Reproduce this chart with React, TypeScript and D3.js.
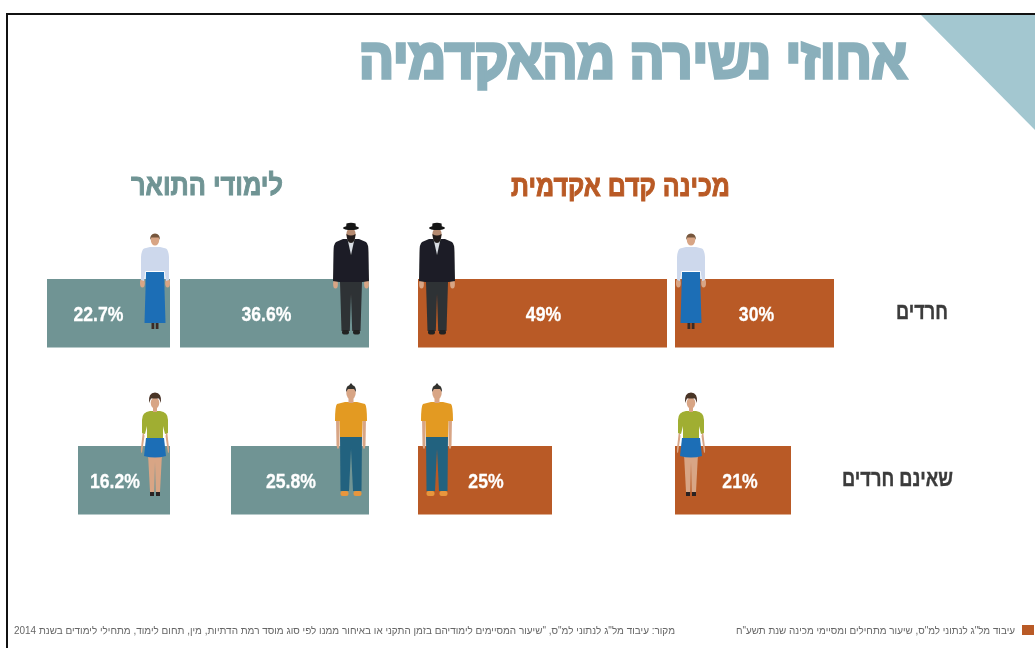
import React from "react";
import * as d3 from "d3";

const title = "אחוזי נשירה מהאקדמיה";
const rowLabels = ["חרדים", "שאינם חרדים"];
const prepTitle = "מכינה קדם אקדמית";
const degreeTitle = "לימודי התואר";
const prepMen = [49, 25];
const prepWomen = [30, 21];
const degreeMen = [36.6, 25.8];
const degreeWomen = [22.7, 16.2];
const noteLeft = 'מקור: עיבוד מל"ג לנתוני למ"ס, "שיעור המסיימים לימודיהם בזמן התקני או באיחור ממנו לפי סוג מוסד רמת הדתיות, מין, תחום לימוד, מתחילי לימודים בשנת 2014';
const noteRight = 'עיבוד מל"ג לנתוני למ"ס, שיעור מתחילים ומסיימי מכינה שנת תשע"ח';

const ORANGE = "#b95a25";
const TEAL = "#6f9494";
const SKIN = "#d8a585";
const FONT = "'Liberation Sans', 'DejaVu Sans', sans-serif";

// The infographic's bars are drawn by hand and are not strictly proportional,
// so the scale follows the widths at each printed value.
const widthScale = d3.scaleLinear()
  .domain([0, 16.2, 21, 22.7, 25, 25.8, 30, 36.6, 49])
  .range([0, 92, 116, 123, 134, 138, 159, 189, 249]);
const rowScale = d3.scalePoint<string>().domain(rowLabels).range([279, 446]);
const BAR_H = 68.5;

const Hands = ({ y, x }: { y: number; x: number }) => (
  <g fill={SKIN}>
    <ellipse cx={-x} cy={y} rx={2.4} ry={4.5} />
    <ellipse cx={x} cy={y} rx={2.4} ry={4.5} />
  </g>
);

const HarediMan = () => (
  <g>
    <path d="M-11,60 H11 L9.5,109 H1.2 L0,72 L-1.2,109 H-9.5 Z" fill="#2f3134" />
    <rect x={-9} y={108} width={7} height={4.5} rx={2} fill="#222" />
    <rect x={2} y={108} width={7} height={4.5} rx={2} fill="#222" />
    <Hands y={62} x={15.5} />
    <path d="M-8,17 L8,17 L15,20 Q17.5,22 17.5,30 L18,59 L12,60 H-12 L-18,59 L-17.5,30 Q-17.5,22 -15,20 Z" fill="#1e1f25" />
    <path d="M-3.5,17 H3.5 L0,33 Z" fill="#d9dde3" />
    <ellipse cx={0} cy={12} rx={4.6} ry={6} fill="#b58a70" />
    <path d="M-4.6,12 Q0,15 4.6,12 Q4,21 0,21 Q-4,21 -4.6,12 Z" fill="#231d1a" />
    <ellipse cx={0} cy={6} rx={8} ry={2} fill="#141414" />
    <path d="M-5,6 L-4.5,1.5 Q0,0 4.5,1.5 L5,6 Z" fill="#141414" />
  </g>
);

const HarediWoman = () => (
  <g>
    <rect x={-3.5} y={88} width={2.8} height={8} fill="#3a2c25" />
    <rect x={0.7} y={88} width={2.8} height={8} fill="#3a2c25" />
    <Hands y={50} x={12.6} />
    <path d="M-5,14 L5,14 L11,15.5 Q13.5,17 14,24 L14,47 L11,48 L9.5,38 H-9.5 L-11,48 L-14,47 L-14,24 Q-13.5,17 -11,15.5 Z" fill="#cdd8ec" />
    <path d="M-9,39 L9,39 L10.5,90 H-10.5 Z" fill="#1f6eb6" />
    <ellipse cx={0} cy={7} rx={4.2} ry={5.5} fill={SKIN} />
    <path d="M-5,7 Q-5,0.5 0,0.5 Q5,0.5 5,7 L3.5,4.5 H-3.5 Z" fill="#76573c" />
  </g>
);

const CasualMan = () => (
  <g>
    <path d="M-11,53 H11 L10.5,108 H2 L0,66 L-2,108 H-10.5 Z" fill="#23627f" />
    <rect x={-10.5} y={108} width={8} height={5} rx={2} fill="#e8963c" />
    <rect x={2.5} y={108} width={8} height={5} rx={2} fill="#e8963c" />
    <path d="M-15,35 H-11.5 V62 Q-13,70 -14.5,62 Z M15,35 H11.5 V62 Q13,70 14.5,62 Z" fill={SKIN} />
    <path d="M-6,19 L6,19 L14,21 Q16,23 16,38 H11.5 L11,54 H-11 L-11.5,38 H-16 Q-16,23 -14,21 Z" fill="#e39a20" />
    <rect x={-2.5} y={14} width={5} height={6} fill={SKIN} />
    <ellipse cx={0} cy={10} rx={4.7} ry={6.5} fill={SKIN} />
    <path d="M-5,9 Q-5,3 -2,2.5 L0,0 L2,2.5 Q5,3 5,9 L3,6 H-3 Z" fill="#30302f" />
  </g>
);

const CasualWoman = () => (
  <g>
    <path d="M-7,62 H7 L5,100 H0.7 L0,70 L-0.7,100 H-5 Z" fill={SKIN} />
    <rect x={-5} y={100} width={4} height={4} fill="#2a2421" />
    <rect x={1} y={100} width={4} height={4} fill="#2a2421" />
    <path d="M-12,38 L-14,56 Q-14.5,61 -13,61 L-10.5,44 Z M12,38 L14,56 Q14.5,61 13,61 L10.5,44 Z" fill={SKIN} />
    <path d="M-5,19 L5,19 Q13,20 13,28 L13,41 L10,42 L8,34 V46 H-8 V34 L-10,42 L-13,41 L-13,28 Q-13,20 -5,19 Z" fill="#a0ae30" />
    <path d="M-9,46 H9 L11,64 Q0,67 -11,64 Z" fill="#1f6eb6" />
    <rect x={-2} y={14} width={4} height={6} fill={SKIN} />
    <ellipse cx={0} cy={11} rx={4.3} ry={5.6} fill={SKIN} />
    <path d="M-6,11 Q-7,0.5 0,0.5 Q7,0.5 6,11 L4,6.5 H-4 Z" fill="#4a3428" />
  </g>
);

type Panel = {
  values: number[];
  color: string;
  edge: number;
  grow: 1 | -1;
  figures: [React.FC, React.FC];
  tops: [number, number];
  figureX: number;
  labelShift: [number, number];
};

const panels: Panel[] = [
  { values: prepWomen, color: ORANGE, edge: 675, grow: 1, figures: [HarediWoman, CasualWoman], tops: [233, 392], figureX: 691, labelShift: [2, 7] },
  { values: prepMen, color: ORANGE, edge: 418, grow: 1, figures: [HarediMan, CasualMan], tops: [222, 383], figureX: 437, labelShift: [1, 1] },
  { values: degreeMen, color: TEAL, edge: 369, grow: -1, figures: [HarediMan, CasualMan], tops: [222, 383], figureX: 351, labelShift: [-8, -9] },
  { values: degreeWomen, color: TEAL, edge: 170, grow: -1, figures: [HarediWoman, CasualWoman], tops: [233, 392], figureX: 155, labelShift: [-10, -9] },
];

export default function App() {
  return (
    <svg
      width={1035}
      height={648}
      viewBox="0 0 1035 648"
      style={{ position: "absolute", left: 0, top: 0, background: "#fff" }}
    >
      <defs>
        <filter id="soft" x="-5%" y="-5%" width="110%" height="110%">
          <feGaussianBlur stdDeviation="0.4" />
        </filter>
      </defs>
      <g filter="url(#soft)" fontFamily={FONT} direction="rtl">
        <path d="M921,15 H1035 V130 Z" fill="#a3c7d0" />
        <text x={907} y={78} textAnchor="start" fontSize={56} fontWeight={700} fill="#8aafbb" stroke="#8aafbb" strokeWidth={3.4} textLength={548} lengthAdjust="spacingAndGlyphs">{title}</text>
        <text x={730} y={196} textAnchor="start" fontSize={29} fontWeight={700} fill={ORANGE} stroke={ORANGE} strokeWidth={1} textLength={219} lengthAdjust="spacingAndGlyphs">{prepTitle}</text>
        <text x={283} y={195} textAnchor="start" fontSize={29} fontWeight={700} fill={TEAL} stroke={TEAL} strokeWidth={1} textLength={152} lengthAdjust="spacingAndGlyphs">{degreeTitle}</text>

        {rowLabels.map((label, r) => (
          <text key={label} x={r === 0 ? 948 : 953} y={rowScale(label)! + 40} textAnchor="start" fontSize={23} fontWeight={700} fill="#3b3b3b" stroke="#3b3b3b" strokeWidth={0.4} textLength={r === 0 ? 52 : 111} lengthAdjust="spacingAndGlyphs">{label}</text>
        ))}

        {panels.map((p, i) => (
          <g key={i}>
            {p.values.map((v, r) => {
              const w = widthScale(v);
              const x = p.grow === 1 ? p.edge : p.edge - w;
              const y = rowScale(rowLabels[r])!;
              return <rect key={r} x={x} y={y} width={w} height={BAR_H} fill={p.color} />;
            })}
            {p.values.map((v, r) => {
              const w = widthScale(v);
              const x = p.grow === 1 ? p.edge : p.edge - w;
              const y = rowScale(rowLabels[r])!;
              const Figure = p.figures[r];
              return (
                <g key={r}>
                  <text
                    transform={`translate(${x + w / 2 + p.labelShift[r]},${y + 42}) scale(0.84,1)`}
                    direction="ltr"
                    textAnchor="middle"
                    fontSize={21}
                    fontWeight={700}
                    fill="#fff"
                    stroke="#fff"
                    strokeWidth={0.3}
                  >
                    {v}%
                  </text>
                  <g transform={`translate(${p.figureX},${p.tops[r]})`}>
                    <Figure />
                  </g>
                </g>
              );
            })}
          </g>
        ))}

        <rect x={1022} y={625} width={12} height={10} fill={ORANGE} />
        <text x={1015} y={634} textAnchor="start" fontSize={10.5} fill="#666" textLength={279} lengthAdjust="spacingAndGlyphs">{noteRight}</text>
        <text x={675} y={634} textAnchor="start" fontSize={10.5} fill="#666" textLength={661} lengthAdjust="spacingAndGlyphs">{noteLeft}</text>
      </g>
      <path d="M1035,14 H7 V648" fill="none" stroke="#111" strokeWidth={2} />
    </svg>
  );
}
